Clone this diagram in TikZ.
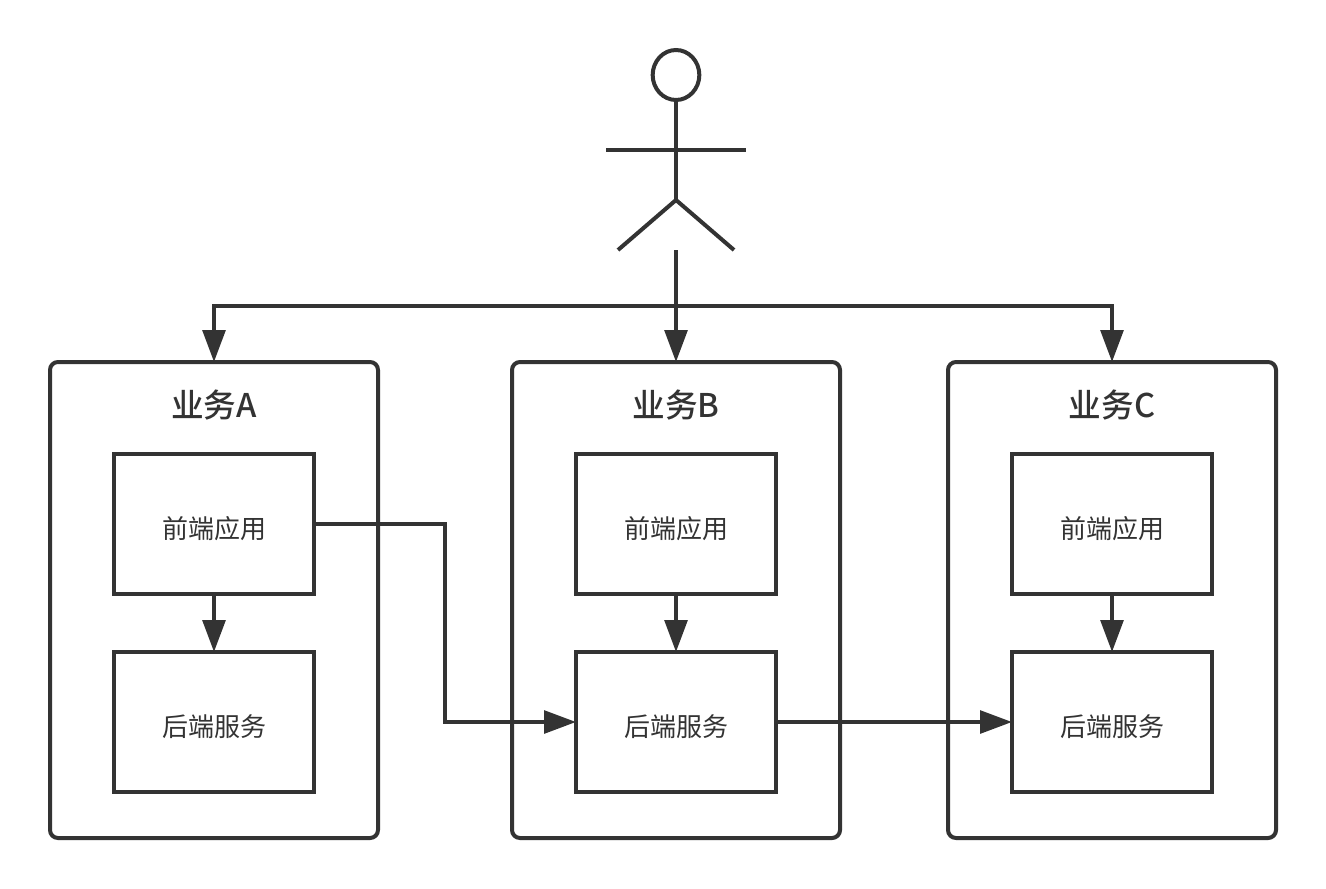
\documentclass[tikz,border=0pt]{standalone}
\usepackage{fontspec}
\setmainfont{Noto Sans CJK SC}
\newfontfamily\titlefont{Noto Sans CJK SC Medium}
\usetikzlibrary{arrows.meta,shapes.geometric}
\definecolor{inkgray}{HTML}{333333}
\tikzset{
  headbox/.style={draw, ellipse, minimum width=35pt, minimum height=37.5pt},
  outerbox/.style={draw, rounded corners=6pt, minimum width=246pt, minimum height=357pt},
  innerbox/.style={draw, minimum width=150pt, minimum height=105pt, text height=21.2pt, text depth=0pt, font=\fontsize{19.5}{22}\selectfont},
  titletext/.style={font=\titlefont\fontsize{24.5}{28}\selectfont},
  flow/.style={-{Triangle[length=24pt,width=17pt]}},
}
\begin{document}
\begin{tikzpicture}[x=0.75pt,y=-0.75pt,line width=3pt,color=inkgray,outer sep=0pt,inner sep=0pt]
\useasboundingbox (0,0) rectangle (1326,888);

% actor
\node[headbox] (head) at (676,75) {};
\coordinate (hip) at (676,200);
\coordinate (armL) at (606,150);
\coordinate (armR) at (746,150);
\coordinate (legL) at (618,250);
\coordinate (legR) at (734,250);
\coordinate (start) at (676,250);
\coordinate (branch) at (676,306);
\path[draw] (head.south) -- (hip);
\path[draw] (armL) -- (armR);
\path[draw] (legL) -- (hip) -- (legR);

% business boxes
\node[outerbox] (bizA) at (214,600) {};
\node[outerbox] (bizB) at (676,600) {};
\node[outerbox] (bizC) at (1112,600) {};
\node[titletext] (titleA) at (214,405) {业务A};
\node[titletext] (titleB) at (676,405) {业务B};
\node[titletext] (titleC) at (1112,405) {业务C};

\node[innerbox] (frontA) at (214,524) {前端应用};
\node[innerbox] (frontB) at (676,524) {前端应用};
\node[innerbox] (frontC) at (1112,524) {前端应用};
\node[innerbox] (backA) at (214,722) {后端服务};
\node[innerbox] (backB) at (676,722) {后端服务};
\node[innerbox] (backC) at (1112,722) {后端服务};

% connectors
\coordinate (bend) at (445,524);
\path[draw,flow] (start) -- (bizB.north);
\path[draw,flow] (branch) -| (bizA.north);
\path[draw,flow] (branch) -| (bizC.north);
\path[draw,flow] (frontA) -- (backA);
\path[draw,flow] (frontB) -- (backB);
\path[draw,flow] (frontC) -- (backC);
\path[draw,flow] (frontA.east) -- (bend) |- (backB.west);
\path[draw,flow] (backB.east) -- (backC.west);
\end{tikzpicture}
\end{document}
